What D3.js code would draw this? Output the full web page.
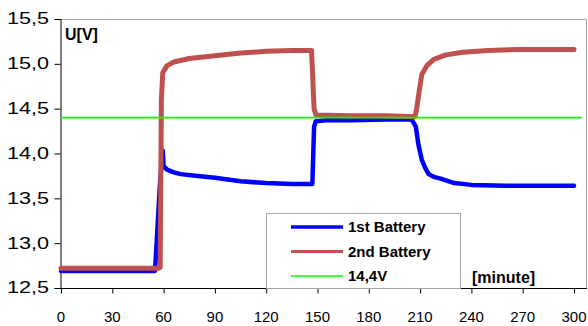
<!DOCTYPE html>
<head>
	<meta charset="utf-8" />
	<style>
		body {
			margin: 0;
			background-color: #fff;
			font-family: Arial, 'Liberation Sans', sans-serif;
		}
		.tick-label {
			font-size: 15px;
			fill: #000;
		}
		.bold {
			font-weight: bold;
		}
	</style>
</head>
<body>
	<div id="chart-area"></div>
	<script src="https://cdnjs.cloudflare.com/ajax/libs/d3/7.8.5/d3.min.js"></script>
	<script>
		// minutes / volts
		const time1 = [0, 55, 56.5, 58, 59.5, 60, 62, 66, 70, 80, 90, 105, 120, 135, 147, 148, 149, 155, 170, 190, 205, 207.5, 209, 211, 213, 215, 218, 222, 230, 240, 260, 280, 300];
		const battery1 = [12.69, 12.69, 13.2, 13.7, 14.03, 13.86, 13.82, 13.79, 13.77, 13.75, 13.73, 13.69, 13.67, 13.66, 13.66, 14.3, 14.36, 14.37, 14.37, 14.38, 14.38, 14.3, 14.1, 13.93, 13.84, 13.77, 13.74, 13.72, 13.67, 13.65, 13.64, 13.64, 13.64];

		const time2 = [0, 57, 58, 58.7, 59.5, 62, 66, 75, 90, 105, 120, 135, 146.5, 148, 149, 170, 190, 207, 208, 209.5, 211, 214, 218, 225, 235, 250, 270, 300];
		const battery2 = [12.72, 12.72, 12.73, 14.6, 14.9, 14.98, 15.02, 15.06, 15.09, 15.12, 15.14, 15.15, 15.15, 14.5, 14.43, 14.42, 14.42, 14.41, 14.5, 14.7, 14.88, 14.98, 15.05, 15.1, 15.13, 15.15, 15.16, 15.16];

		const time3 = [0, 304.5];
		const limit = [14.4, 14.4];

		const seriesNames = ['1st Battery', '2nd Battery', '14,4V'];
		const seriesColors = ['#0000ff', '#c0504d', '#00ff00'];
		const seriesWidths = [4.5, 5, 1.6];

		const xTicks = [0, 30, 60, 90, 120, 150, 180, 210, 240, 270, 300];
		const yTicks = [12.5, 13.0, 13.5, 14.0, 14.5, 15.0, 15.5];

		const width = 588,
			height = 326;
		const plot = { left: 60.5, right: 587, top: 19, bottom: 288 };

		const x = d3.scaleLinear().domain([0, 300]).range([61, 574]);
		const y = d3.scaleLinear().domain([12.5, 15.5]).range([plot.bottom, plot.top]);

		const svg = d3
			.select('#chart-area')
			.append('svg')
			.attr('width', width)
			.attr('height', height)
			.style('display', 'block');

		// grey frame top + right
		svg.append('path')
			.attr('d', `M${plot.left},${plot.top + 0.5}H${plot.right - 0.5}V${plot.bottom}`)
			.attr('fill', 'none')
			.attr('stroke', '#a6a6a6')
			.attr('stroke-width', 1);

		// y axis
		const yAxis = svg
			.append('g')
			.attr('transform', `translate(${plot.left},0)`)
			.call(d3.axisLeft(y).tickValues(yTicks).tickSize(6).tickFormat(''));
		yAxis.select('.domain').attr('stroke', '#000');
		yAxis.selectAll('.tick line').attr('stroke', '#000');

		svg.selectAll('.ylab')
			.data(yTicks)
			.join('text')
			.attr('class', 'tick-label')
			.attr('text-anchor', 'end')
			.attr('dominant-baseline', 'central')
			.style('font-size', '16px')
			.attr('transform', d => `translate(49,${y(d)}) scale(1.35,1)`)
			.text(d => d3.format('.1f')(d).replace('.', ','));

		// x axis
		const xAxis = svg
			.append('g')
			.attr('transform', `translate(0,${plot.bottom + 0.5})`)
			.call(d3.axisBottom(x).tickValues(xTicks).tickSize(5).tickFormat('').tickSizeOuter(0));
		xAxis.select('.domain').attr('stroke', '#000').attr('d', `M${plot.left},0H${plot.right}`);
		xAxis.selectAll('.tick line').attr('stroke', '#000');

		svg.selectAll('.xlab')
			.data(xTicks)
			.join('text')
			.attr('class', 'tick-label')
			.attr('text-anchor', 'middle')
			.attr('x', d => x(d))
			.attr('y', 322)
			.text(d => d);

		// series
		const line = d3
			.line()
			.x(d => x(d[0]))
			.y(d => y(d[1]));

		const series = [
			d3.zip(time1, battery1),
			d3.zip(time2, battery2),
			d3.zip(time3, limit),
		];

		svg.selectAll('.series')
			.data(series)
			.join('path')
			.attr('class', 'series')
			.attr('d', line)
			.attr('fill', 'none')
			.attr('stroke', (d, i) => seriesColors[i])
			.attr('stroke-width', (d, i) => seriesWidths[i])
			.attr('stroke-linejoin', 'round')
			.attr('stroke-linecap', (d, i) => (i < 2 ? 'round' : 'butt'));

		// labels
		svg.append('text')
			.attr('class', 'bold')
			.attr('x', 65)
			.attr('y', 40)
			.style('font-size', '16px')
			.text('U[V]');

		svg.append('text')
			.attr('class', 'bold')
			.attr('x', 472)
			.attr('y', 283)
			.style('font-size', '16px')
			.text('[minute]');

		// legend
		const legend = svg.append('g');
		legend.append('rect')
			.attr('x', 266.5)
			.attr('y', 213.5)
			.attr('width', 194)
			.attr('height', 75)
			.attr('fill', '#fff')
			.attr('stroke', '#a6a6a6');

		const rows = legend
			.selectAll('.row')
			.data(seriesNames)
			.join('g')
			.attr('transform', (d, i) => `translate(0,${227 + i * 24.5})`);

		rows.append('line')
			.attr('x1', 291)
			.attr('x2', 343)
			.attr('stroke', (d, i) => seriesColors[i])
			.attr('stroke-width', (d, i) => (i === 0 ? 3.5 : i === 1 ? 3 : 1.6));

		rows.append('text')
			.attr('class', 'bold')
			.attr('x', 348)
			.attr('y', 5)
			.style('font-size', '15px')
			.text(d => d);
	</script>
</body>
